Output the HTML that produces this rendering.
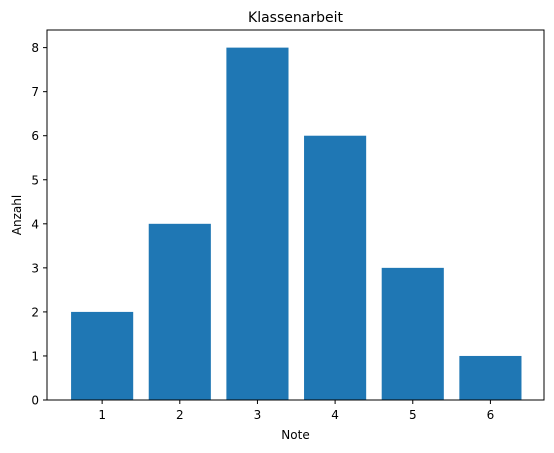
<!DOCTYPE html>
<html><head><meta charset="utf-8"><style>
body{margin:0;background:#fff;}
svg{display:block;font-family:"DejaVu Sans","Liberation Sans",sans-serif;}
</style></head><body>
<svg id="chart" width="554" height="453" viewBox="0 0 554 453"></svg>
<script>
const categories = [1, 2, 3, 4, 5, 6];
const counts = [2, 4, 8, 6, 3, 1];
const yTicks = [0, 1, 2, 3, 4, 5, 6, 7, 8];
const ns = "http://www.w3.org/2000/svg";
const svg = document.getElementById("chart");
const L = 47, R = 544, T = 30, B = 400;
const xMin = 0.29, xMax = 6.69, yMin = 0, yMax = 8.4;
const xs = v => L + (v - xMin) / (xMax - xMin) * (R - L);
const ys = v => B - (v - yMin) / (yMax - yMin) * (B - T);
function mk(tag, attrs, parent){const e=document.createElementNS(ns,tag);for(const k in attrs)e.setAttribute(k,attrs[k]);(parent||svg).appendChild(e);return e;}
const bw = (xs(0.8) - xs(0));
categories.forEach((c,i)=>{
  const r = mk("rect",{x:xs(c)-bw/2,y:ys(counts[i]),width:bw,height:ys(0)-ys(counts[i]),fill:"#1f77b4"});
  
  
});
const frame = mk("rect",{x:L,y:T,width:R-L,height:B-T,fill:"none",stroke:"#000","stroke-width":1});


categories.forEach(c=>{
  mk("line",{x1:xs(c),x2:xs(c),y1:B,y2:B+4,stroke:"#000"});
  const t = mk("text",{x:xs(c),y:B+19,"text-anchor":"middle","font-size":12});
  t.textContent = c;
  
  
});
yTicks.forEach(v=>{
  mk("line",{x1:L-4,x2:L,y1:ys(v),y2:ys(v),stroke:"#000"});
  const t = mk("text",{x:L-8,y:ys(v)+4.5,"text-anchor":"end","font-size":12});
  t.textContent = v;
  
  
});
const title = mk("text",{x:(L+R)/2,y:22,"text-anchor":"middle","font-size":14});
title.textContent = "Klassenarbeit";


const xt = mk("text",{x:(L+R)/2,y:439,"text-anchor":"middle","font-size":12});
xt.textContent = "Note";


const yt = mk("text",{x:21,y:(T+B)/2,"text-anchor":"middle","font-size":12,transform:"rotate(-90 21 "+((T+B)/2)+")"});
yt.textContent = "Anzahl";


</script>
</body></html>
